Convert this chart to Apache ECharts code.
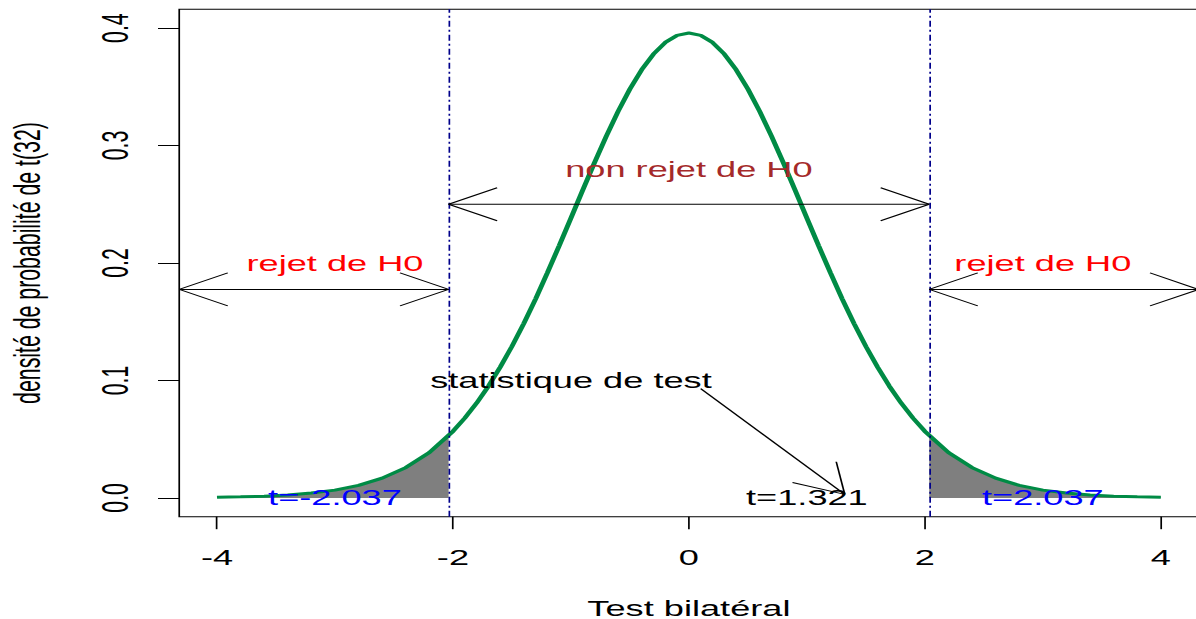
<!DOCTYPE html>
<html>
<head>
<meta charset="utf-8">
<script src="https://cdn.jsdelivr.net/npm/echarts@6/dist/echarts.min.js"></script>
<style>
  html, body { margin: 0; padding: 0; background: #fff; overflow: hidden; }
  /* the reference is an R plot stretched sideways, so draw narrow and stretch */
  #chart { width: 704px; height: 619px; transform: scaleX(1.6989); transform-origin: 0 0; }
</style>
</head>
<body>
<div id="chart"></div>
<script>
// densité t(32)
const curveX = [-4, -3.8, -3.6, -3.4, -3.2, -3, -2.8, -2.6, -2.4, -2.2,
  -2, -1.9, -1.8, -1.7, -1.6, -1.5, -1.4, -1.3, -1.2, -1.1, -1, -0.9, -0.8, -0.7, -0.6, -0.5, -0.4, -0.3, -0.2, -0.1,
  0, 0.1, 0.2, 0.3, 0.4, 0.5, 0.6, 0.7, 0.8, 0.9, 1, 1.1, 1.2, 1.3, 1.4, 1.5, 1.6, 1.7, 1.8, 1.9, 2,
  2.2, 2.4, 2.6, 2.8, 3, 3.2, 3.4, 3.6, 3.8, 4]
const curveY = [0.0005, 0.0009, 0.0015, 0.0024, 0.0041, 0.0066, 0.0107, 0.0168, 0.0258, 0.0387,
  0.0567, 0.0679, 0.0806, 0.0950, 0.1112, 0.1290, 0.1484, 0.1693, 0.1915, 0.2146, 0.2383, 0.2620, 0.2855, 0.3080, 0.3291, 0.3481, 0.3646, 0.3779, 0.3878, 0.3938,
  0.3958, 0.3938, 0.3878, 0.3779, 0.3646, 0.3481, 0.3291, 0.3080, 0.2855, 0.2620, 0.2383, 0.2146, 0.1915, 0.1693, 0.1484, 0.1290, 0.1112, 0.0950, 0.0806, 0.0679, 0.0567,
  0.0387, 0.0258, 0.0168, 0.0107, 0.0066, 0.0041, 0.0024, 0.0015, 0.0009, 0.0005]

// zones de rejet (queues grisées)
const leftTailX = [-4, -3.8, -3.6, -3.4, -3.2, -3, -2.8, -2.6, -2.4, -2.2, -2.037]
const leftTailY = [0.0005, 0.0009, 0.0015, 0.0024, 0.0041, 0.0066, 0.0107, 0.0168, 0.0258, 0.0387, 0.0529]
const rightTailX = [2.037, 2.2, 2.4, 2.6, 2.8, 3, 3.2, 3.4, 3.6, 3.8, 4]
const rightTailY = [0.0529, 0.0387, 0.0258, 0.0168, 0.0107, 0.0066, 0.0041, 0.0024, 0.0015, 0.0009, 0.0005]

const criticalValues = [-2.037, 2.037]

const xTicks = [-4, -2, 0, 2, 4]
const yTicks = [0, 0.1, 0.2, 0.3, 0.4]

// flèches : x0, y0, x1, y1, pointes (3 = deux bouts, 2 = arrivée)
const arrowX0 = [-4.32, -2.037, 2.037, 0.1]
const arrowY0 = [0.1775, 0.25, 0.1775, 0.093]
const arrowX1 = [-2.037, 2.037, 4.32, 1.321]
const arrowY1 = [0.1775, 0.25, 0.1775, 0.003]
const arrowCode = [3, 3, 3, 2]

const noteText = ['rejet de H0', 'non rejet de H0', 'rejet de H0', 'statistique de test', 't=1.321', 't=-2.037', 't=2.037']
const noteX = [-3, 0, 3, -1, 1, -3, 3]
const noteY = [0.2, 0.28, 0.2, 0.1, 0, 0, 0]
const noteColor = ['#ff0000', '#a52a2a', '#ff0000', '#000000', '#000000', '#0000ff', '#0000ff']

const FONT = "'Liberation Sans', Arial, Helvetica, sans-serif"
const FONT_SIZE = 21.3
const HEAD_LEN = 33
const HEAD_ANGLE = 30 * Math.PI / 180

const chart = echarts.init(document.getElementById('chart'), null, { renderer: 'svg' })

const zip = (xs, ys) => xs.map((x, i) => [x, ys[i]])

function renderArrow (params, api) {
  const p0 = api.coord([api.value(0), api.value(1)])
  const p1 = api.coord([api.value(2), api.value(3)])
  const style = { stroke: '#000', lineWidth: 1, fill: null }
  const children = [{ type: 'line', shape: { x1: p0[0], y1: p0[1], x2: p1[0], y2: p1[1] }, style }]
  const head = (tip, from) => {
    const a = Math.atan2(from[1] - tip[1], from[0] - tip[0])
    ;[1, -1].forEach(s => {
      const b = a + s * HEAD_ANGLE
      children.push({
        type: 'line',
        shape: { x1: tip[0], y1: tip[1], x2: tip[0] + HEAD_LEN * Math.cos(b), y2: tip[1] + HEAD_LEN * Math.sin(b) },
        style
      })
    })
  }
  if (api.value(4) === 3) head(p0, p1)
  head(p1, p0)
  return { type: 'group', children }
}

function renderNote (params, api) {
  const p = api.coord([api.value(0), api.value(1)])
  const i = params.dataIndex
  return {
    type: 'text',
    x: p[0],
    y: p[1],
    style: {
      text: noteText[i],
      fill: noteColor[i],
      fontSize: FONT_SIZE,
      fontFamily: FONT,
      align: 'center',
      verticalAlign: 'middle'
    }
  }
}

const axisText = { color: '#000', fontSize: FONT_SIZE, fontFamily: FONT }

chart.setOption({
  animation: false,
  backgroundColor: '#fff',
  grid: {
    left: 105.5, top: 9.3, width: 600, height: 507.4,
    show: true, borderColor: '#000', borderWidth: 1,
    outerBoundsMode: 'none'
  },
  xAxis: {
    type: 'value',
    min: -4.32,
    max: 4.32,
    name: 'Test bilatéral',
    nameLocation: 'middle',
    nameGap: 81,
    nameMoveOverlap: false,
    nameTextStyle: axisText,
    axisLine: { show: false, onZero: false },
    splitLine: { show: false },
    axisTick: { show: true, length: 12.5, customValues: xTicks, lineStyle: { color: '#000', width: 1 } },
    axisLabel: { ...axisText, margin: 30, customValues: xTicks, formatter: v => String(v) }
  },
  yAxis: {
    type: 'value',
    min: -0.016,
    max: 0.416,
    name: 'densité de probabilité de t(32)',
    nameLocation: 'middle',
    nameRotate: 90,
    nameGap: 79,
    nameMoveOverlap: false,
    nameTextStyle: axisText,
    axisLine: { show: false, onZero: false },
    splitLine: { show: false },
    axisTick: { show: true, length: 12.5, customValues: yTicks, lineStyle: { color: '#000', width: 1 } },
    axisLabel: { ...axisText, margin: 27, rotate: 90, customValues: yTicks, formatter: v => v.toFixed(1) }
  },
  series: [
    {
      type: 'line',
      data: zip(leftTailX, leftTailY),
      showSymbol: false,
      lineStyle: { width: 0 },
      areaStyle: { color: '#7f7f7f', opacity: 1 },
      silent: true,
      z: 1
    },
    {
      type: 'line',
      data: zip(rightTailX, rightTailY),
      showSymbol: false,
      lineStyle: { width: 0 },
      areaStyle: { color: '#7f7f7f', opacity: 1 },
      silent: true,
      z: 1
    },
    {
      type: 'line',
      data: zip(curveX, curveY),
      showSymbol: false,
      lineStyle: { color: '#008b45', width: 3 },
      silent: true,
      z: 2,
      markLine: {
        silent: true,
        symbol: ['none', 'none'],
        label: { show: false },
        lineStyle: { color: '#00008b', width: 1, type: [6, 3, 2, 3] },
        data: criticalValues.map(v => ({ xAxis: v }))
      }
    },
    {
      type: 'custom',
      renderItem: renderArrow,
      clip: false,
      silent: true,
      z: 5,
      encode: { x: [0, 2], y: [1, 3] },
      data: arrowX0.map((x, i) => [x, arrowY0[i], arrowX1[i], arrowY1[i], arrowCode[i]])
    },
    {
      type: 'custom',
      renderItem: renderNote,
      clip: false,
      silent: true,
      z: 10,
      data: zip(noteX, noteY)
    }
  ]
})
</script>
</body>
</html>
